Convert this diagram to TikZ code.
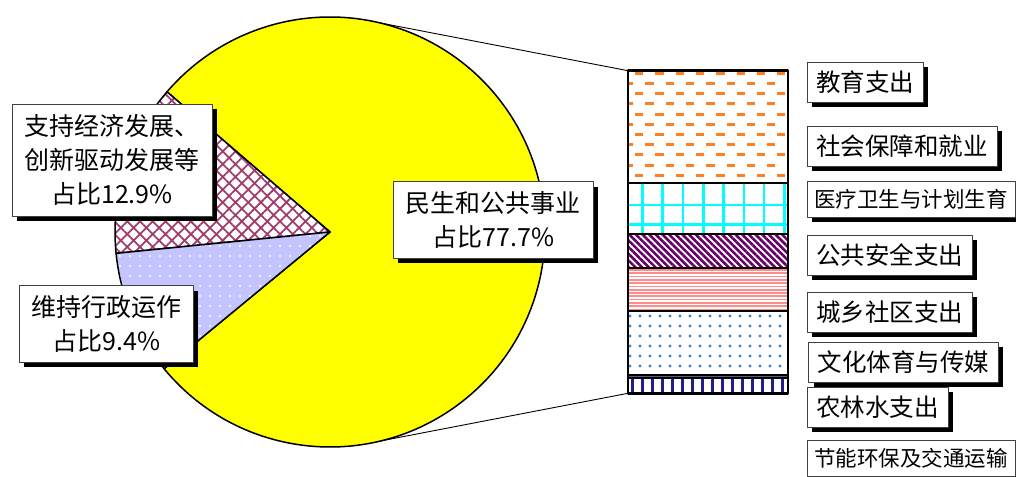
\documentclass[tikz,border=0pt]{standalone}
\usepackage{fontspec}
\setmainfont{Noto Sans CJK SC}
\usetikzlibrary{patterns.meta,shadows}
\definecolor{pieyellow}{RGB}{255,255,0}
\definecolor{hatchred}{RGB}{160,60,110}
\definecolor{lavender}{RGB}{196,196,255}
\definecolor{dashorange}{RGB}{255,128,32}
\definecolor{gridcyan}{RGB}{0,255,255}
\definecolor{stripepurple}{RGB}{102,0,102}
\definecolor{linepink}{RGB}{255,140,140}
\definecolor{dotblue}{RGB}{50,130,230}
\definecolor{barnavy}{RGB}{30,30,140}
\definecolor{bandgray}{RGB}{90,90,130}
\tikzset{
  box/.style={draw=black!75, fill=white, line width=0.8pt, inner xsep=9pt, inner ysep=0pt,
    drop shadow={shadow xshift=5pt, shadow yshift=-5pt, fill=black, opacity=1}},
  rbox/.style={box, anchor=west, minimum height=40pt, font=\fontsize{24.5}{24.5}\selectfont},
  sbox/.style={box, anchor=west, inner xsep=7pt, minimum height=36pt, font=\fontsize{21.5}{21.5}\selectfont},
  pbox/.style={box, align=center, inner xsep=0pt, font=\fontsize{25}{34}\selectfont},
  slice/.style={draw=black, line width=1.5pt},
}
\begin{document}
\begin{tikzpicture}[x=1pt, y=1pt, line join=round]
  \useasboundingbox (0,0) rectangle (1016,476);
  % pie
  \coordinate (c) at (330,244);
  \filldraw[slice, fill=pieyellow] (c) -- +(219.5:215) arc[start angle=219.5, end angle=499.3, radius=215] -- cycle;
  \draw[slice, preaction={fill=white}, preaction={pattern={Hatch[angle=45,distance=9pt,line width=1.8pt]}, pattern color=hatchred}]
    (c) -- +(139.3:215) arc[start angle=139.3, end angle=185.7, radius=215] -- cycle;
  \draw[slice, preaction={fill=lavender}, preaction={pattern={Dots[distance=10pt,radius=1.2pt]}, pattern color=white}]
    (c) -- +(185.7:215) arc[start angle=185.7, end angle=219.5, radius=215] -- cycle;
  \path (c) ++(76.5:215) coordinate (pietop);
  \path (c) ++(-76.5:215) coordinate (piebot);
  \coordinate (bartop) at (628,405.3);
  \coordinate (barbot) at (628,82.7);
  \draw[line width=0.9pt] (pietop) -- (bartop);
  \draw[line width=0.9pt] (piebot) -- (barbot);
  % bar
  \begin{scope}
    \clip (628,292.7) rectangle (788,405.3);
    \foreach \i in {0,...,10} {
      \pgfmathsetmacro\xo{635-10*mod(\i,2)}
      \foreach \k in {0,...,8}
        \draw[dashorange, line width=3pt] (\xo+20.3*\k,402.7-10.2*\i) -- ++(8.3,0);
    }
  \end{scope}
  \begin{scope}
    \clip (628,242) rectangle (788,292.7);
    \foreach \k in {0,...,7} \draw[gridcyan, line width=2.6pt] (642.3+20.3*\k,242) -- ++(0,50.7);
    \foreach \yy in {271,251.7} \draw[gridcyan, line width=2.6pt] (628,\yy) -- ++(160,0);
  \end{scope}
  \path[pattern={Lines[angle=-45,distance=4.7pt,line width=2.6pt]}, pattern color=stripepurple] (628,207.7) rectangle (788,242);
  \foreach \i in {0,...,12} \draw[linepink, line width=1.7pt] (628,166.5+3.3*\i) -- ++(160,0);
  \path[pattern={Dots[distance=10pt,radius=1.7pt]}, pattern color=dotblue] (628,101) rectangle (788,165);
  \fill[bandgray] (628,97.7) rectangle (788,101);
  \begin{scope}
    \clip (628,82.7) rectangle (788,97.7);
    \foreach \k in {0,...,15} \draw[barnavy, line width=3pt] (632.7+10*\k,82.7) -- ++(0,15);
  \end{scope}
  \foreach \yy in {292.7,242,207.7,165,101,97.7} \draw[line width=2pt] (628,\yy) -- (788,\yy);
  \draw[line width=2.5pt] (barbot) rectangle (788,405.3);
  % labels
  \node[pbox, minimum width=200pt, minimum height=112pt] (jjfz) at (112,316) {支持经济发展、\\创新驱动发展等\\占比12.9\%};
  \node[pbox, minimum width=174pt, minimum height=76.6pt] (xzyz) at (106.3,152) {维持行政运作\\占比9.4\%};
  \node[pbox, minimum width=200pt, minimum height=76.6pt] (msgg) at (493.3,256) {民生和公共事业\\占比77.7\%};
  \node[rbox] (jy) at (807,394) {教育支出};
  \node[rbox] (shbz) at (807,329.7) {社会保障和就业};
  \node[sbox] (ylws) at (807,276.5) {医疗卫生与计划生育};
  \node[rbox] (ggaq) at (807,220.7) {公共安全支出};
  \node[rbox] (cxsq) at (807,164) {城乡社区支出};
  \node[rbox] (whty) at (808.3,114) {文化体育与传媒};
  \node[rbox] (nls) at (807,69) {农林水支出};
  \node[sbox] (jnhb) at (807,17.3) {节能环保及交通运输};
\end{tikzpicture}
\end{document}
